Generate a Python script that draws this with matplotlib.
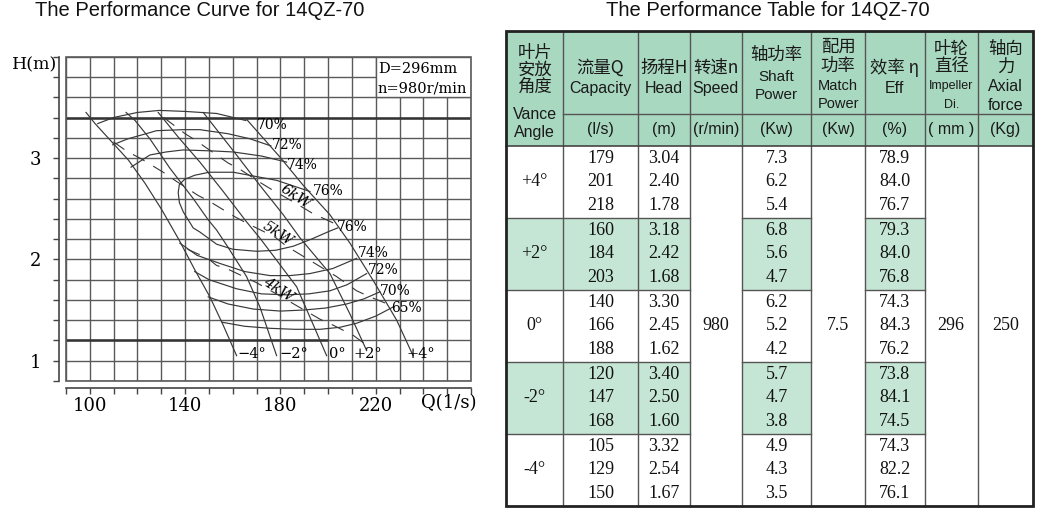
import matplotlib
matplotlib.use("Agg")
import matplotlib.pyplot as plt
from matplotlib.patches import Rectangle

W, H = 1062, 523

# ---------------- titles ----------------
title_curve = "The Performance Curve for 14QZ-70"
title_table = "The Performance Table for 14QZ-70"

# ---------------- chart axes / ticks ----------------
x_ticks = [90, 100, 110, 120, 130, 140, 150, 160, 170, 180, 190, 200, 210, 220, 230, 240, 250, 260]
x_tick_labels = ["", "100", "", "", "", "140", "", "", "", "180", "", "", "", "220", "", "", "", ""]
y_ticks = [0.8, 1.0, 1.2, 1.4, 1.6, 1.8, 2.0, 2.2, 2.4, 2.6, 2.8, 3.0, 3.2, 3.4, 3.6, 3.8, 4.0]
y_tick_labels = ["", "1", "", "", "", "", "2", "", "", "", "", "3", "", "", "", "", ""]
x_label = "Q(1/s)"
y_label = "H(m)"
info_lines = ["D=296mm", "n=980r/min"]

# ---------------- blade-angle H-Q curves ----------------
ang_m4_q = [98.4, 102.2, 109.2, 116.2, 123.2, 130.2, 137.5, 144.0, 150.4, 156.0, 161.6]
ang_m4_h = [3.45, 3.34, 3.16, 2.98, 2.75, 2.49, 2.19, 1.90, 1.63, 1.35, 1.05]
ang_m2_q = [115.2, 119.0, 125.2, 133.6, 143.4, 149.7, 153.2, 158.0, 165.8, 171.4, 178.4]
ang_m2_h = [3.45, 3.37, 3.19, 2.90, 2.60, 2.39, 2.29, 2.12, 1.83, 1.53, 1.05]
ang_0_q = [128.7, 137.0, 146.2, 156.0, 165.8, 171.4, 186.8, 192.4, 199.4]
ang_0_h = [3.45, 3.21, 2.96, 2.67, 2.37, 2.21, 1.73, 1.43, 1.05]
ang_p2_q = [147.6, 161.6, 171.4, 181.2, 188.3, 200.8, 209.2, 216.2]
ang_p2_h = [3.45, 3.03, 2.73, 2.44, 2.21, 1.86, 1.46, 1.10]
ang_p4_q = [165.5, 179.8, 189.6, 200.8, 209.2, 219.0, 228.8, 235.7]
ang_p4_h = [3.39, 3.01, 2.73, 2.44, 2.16, 1.79, 1.40, 1.05]
angle_names = ["\u22124\u00b0", "\u22122\u00b0", "0\u00b0", "+2\u00b0", "+4\u00b0"]
angle_label_q = [161.8, 179.5, 200.5, 210.6, 233.0]
angle_label_h = [1.07, 1.07, 1.07, 1.07, 1.07]

# ---------------- iso-efficiency curves ----------------
eff70u_q = [103.3, 110.0, 120.0, 129.2, 140.0, 153.2, 165.5]
eff70u_h = [3.34, 3.40, 3.45, 3.47, 3.46, 3.44, 3.37]
eff72u_q = [109.6, 116.0, 123.6, 128.0, 139.0, 146.2, 158.0, 167.2, 176.0]
eff72u_h = [3.13, 3.19, 3.24, 3.27, 3.28, 3.28, 3.24, 3.19, 3.12]
eff74u_q = [117.3, 125.2, 132.0, 139.2, 151.6, 160.2, 172.0, 182.6]
eff74u_h = [2.91, 3.03, 3.06, 3.08, 3.07, 3.06, 3.02, 2.96]
eff76_q = [192.4, 178.4, 160.2, 150.1, 144.0, 139.8, 137.6, 137.1, 137.6, 139.2, 143.4, 146.2,
           153.2, 160.0, 170.0, 178.0, 185.4, 193.0, 200.8, 204.0]
eff76_h = [2.67, 2.78, 2.86, 2.86, 2.83, 2.79, 2.74, 2.66, 2.56, 2.47, 2.31, 2.27,
           2.15, 2.10, 2.08, 2.09, 2.13, 2.20, 2.28, 2.31]
eff74l_q = [137.8, 145.0, 154.6, 165.0, 175.6, 184.0, 192.4, 202.0, 212.0]
eff74l_h = [2.16, 2.04, 1.96, 1.88, 1.84, 1.84, 1.86, 1.91, 2.01]
eff72l_q = [144.0, 150.0, 161.6, 172.0, 182.6, 192.0, 200.8, 208.0, 216.2]
eff72l_h = [1.88, 1.80, 1.71, 1.66, 1.65, 1.66, 1.69, 1.75, 1.86]
eff70l_q = [149.7, 158.0, 168.6, 180.0, 189.6, 199.0, 207.8, 215.0, 221.8]
eff70l_h = [1.63, 1.56, 1.51, 1.49, 1.50, 1.52, 1.56, 1.61, 1.68]
eff65_q = [155.5, 165.0, 175.6, 186.0, 196.6, 205.0, 212.0, 220.0, 227.3]
eff65_h = [1.38, 1.34, 1.32, 1.31, 1.31, 1.33, 1.37, 1.44, 1.53]
eff_label_text = ["70%", "72%", "74%", "76%", "76%", "74%", "72%", "70%", "65%"]
eff_label_q = [170.0, 176.3, 182.9, 193.5, 203.6, 212.7, 216.6, 221.8, 226.3]
eff_label_h = [3.33, 3.13, 2.93, 2.67, 2.32, 2.06, 1.90, 1.69, 1.52]

# ---------------- shaft power lines (dashed) ----------------
pw6_q = [131.0, 140.0, 144.1, 158.1, 162.3, 172.1, 177.0, 186.0, 193.8, 199.4, 203.0]
pw6_h = [3.40, 3.24, 3.18, 2.95, 2.90, 2.75, 2.68, 2.56, 2.45, 2.39, 2.35]
pw5_q = [109.9, 116.0, 121.0, 130.8, 135.7, 145.5, 149.7, 160.9, 166.5, 177.7, 182.6,
         192.4, 203.6, 212.0, 217.6, 226.0]
pw5_h = [3.16, 3.06, 3.00, 2.86, 2.78, 2.63, 2.58, 2.42, 2.35, 2.22, 2.13,
         1.99, 1.83, 1.69, 1.63, 1.55]
pw4_q = [141.0, 144.8, 149.0, 153.2, 157.4, 170.0, 179.0, 190.0, 196.6, 202.2, 210.6, 217.6]
pw4_h = [2.10, 2.06, 2.02, 1.94, 1.91, 1.77, 1.65, 1.50, 1.41, 1.35, 1.25, 1.13]
power_names = ["6kW", "5kW", "4kW"]
power_label_q = [186.4, 178.8, 179.2]
power_label_h = [2.62, 2.25, 1.70]

# ---------------- performance table data ----------------
vane_angles = ["+4\u00b0", "+2\u00b0", "0\u00b0", "-2\u00b0", "-4\u00b0"]
capacity = [[179, 201, 218], [160, 184, 203], [140, 166, 188], [120, 147, 168], [105, 129, 150]]
head = [[3.04, 2.40, 1.78], [3.18, 2.42, 1.68], [3.30, 2.45, 1.62], [3.40, 2.50, 1.60], [3.32, 2.54, 1.67]]
shaft_power = [[7.3, 6.2, 5.4], [6.8, 5.6, 4.7], [6.2, 5.2, 4.2], [5.7, 4.7, 3.8], [4.9, 4.3, 3.5]]
efficiency = [[78.9, 84.0, 76.7], [79.3, 84.0, 76.8], [74.3, 84.3, 76.2], [73.8, 84.1, 74.5], [74.3, 82.2, 76.1]]
speed = 980
match_power = 7.5
impeller_dia = 296
axial_force = 250
header_cn = [["叶片", "安放", "角度"], ["流量Q"], ["扬程H"], ["转速n"], ["轴功率"],
             ["配用", "功率"], ["效率 η"], ["叶轮", "直径"], ["轴向", "力"]]
header_en = [["Vance", "Angle"], ["Capacity"], ["Head"], ["Speed"], ["Shaft", "Power"],
             ["Match", "Power"], ["Eff"], ["Impeller", "Di."], ["Axial", "force"]]
header_units = ["", "(l/s)", "(m)", "(r/min)", "(Kw)", "(Kw)", "(%)", "( mm )", "(Kg)"]

# ======================================================================
fig = plt.figure(figsize=(W / 100, H / 100), dpi=100)
fig.patch.set_facecolor("white")

def fx(px):
    return px / W

def fy(py):
    return 1 - py / H

SERIF = "DejaVu Serif"
GRID_C = "#5a5a5a"
CURVE_C = "#383838"

# ---------------- table (pixel-space axes) ----------------
tab = fig.add_axes([0, 0, 1, 1])
tab.set_xlim(0, W)
tab.set_ylim(H, 0)
tab.axis("off")

col_edges = [506.3, 563.2, 637.9, 689.5, 742.1, 811.2, 864.9, 924.6, 977.9, 1033.3]
t_top, t_mid, t_hbot = 30.5, 114.0, 145.5
grp_h = 72.0
t_bot = t_hbot + grp_h * len(vane_angles)
HEAD_G = "#a9d8c0"
CELL_G = "#c5e6d4"
LINE_C = "#555555"

tab.add_patch(Rectangle((col_edges[0], t_top), col_edges[-1] - col_edges[0], t_hbot - t_top,
                        facecolor=HEAD_G, edgecolor="none", zorder=1))
green_cols = [0, 1, 2, 4, 6]
for g in range(len(vane_angles)):
    if g % 2 == 1:
        for c in green_cols:
            tab.add_patch(Rectangle((col_edges[c], t_hbot + g * grp_h), col_edges[c + 1] - col_edges[c],
                                    grp_h, facecolor=CELL_G, edgecolor="none", zorder=1))
for xe in col_edges[1:-1]:
    tab.plot([xe, xe], [t_top, t_bot], color=LINE_C, lw=1.0, zorder=2)
tab.plot([col_edges[1], col_edges[-1]], [t_mid, t_mid], color=LINE_C, lw=1.0, zorder=2)
tab.plot([col_edges[0], col_edges[-1]], [t_hbot, t_hbot], color="#444444", lw=1.2, zorder=2)
for g in range(1, len(vane_angles)):
    yb = t_hbot + g * grp_h
    for c0, c1 in [(0, 3), (4, 5), (6, 7)]:
        tab.plot([col_edges[c0], col_edges[c1]], [yb, yb], color=LINE_C, lw=1.0, zorder=2)
tab.add_patch(Rectangle((col_edges[0], t_top), col_edges[-1] - col_edges[0], t_bot - t_top,
                        facecolor="none", edgecolor="#222222", lw=2.0, zorder=3))

cn_y = [[53, 70, 87], [68], [68], [68], [55], [47, 66], [68], [49, 66.5], [49, 66.5]]
en_y = [[114.5, 132], [88.5], [88.5], [88.5], [77, 95], [86, 104], [88.5], [86.5, 105], [86.5, 105]]
en_size = [11.5, 11.5, 11.5, 11.5, 11, 10.5, 11.5, 9, 11.5]
for c in range(9):
    xc = (col_edges[c] + col_edges[c + 1]) / 2
    for txt, yy in zip(header_cn[c], cn_y[c]):
        tab.text(xc, yy, txt, ha="center", va="center", fontsize=12.5,
                 family=["Noto Sans CJK SC", "DejaVu Sans"], color="#1a1a1a", zorder=4)
    for txt, yy in zip(header_en[c], en_y[c]):
        tab.text(xc, yy, txt, ha="center", va="center", fontsize=en_size[c],
                 family="Liberation Sans", color="#1a1a1a", zorder=4)
    if header_units[c]:
        tab.text(xc, 129.5, header_units[c], ha="center", va="center", fontsize=11.5,
                 family="Liberation Sans", color="#1a1a1a", zorder=4)

row_off = [13.0, 36.5, 60.0]
DFONT = dict(family="Liberation Serif", fontsize=13, color="#111111", ha="center", va="center", zorder=4)
cc = [(col_edges[c] + col_edges[c + 1]) / 2 for c in range(9)]
for g, ang in enumerate(vane_angles):
    gt = t_hbot + g * grp_h
    tab.text(cc[0], gt + grp_h / 2, ang, **DFONT)
    for r in range(3):
        yy = gt + row_off[r]
        tab.text(cc[1], yy, f"{capacity[g][r]:d}", **DFONT)
        tab.text(cc[2], yy, f"{head[g][r]:.2f}", **DFONT)
        tab.text(cc[4], yy, f"{shaft_power[g][r]:.1f}", **DFONT)
        tab.text(cc[6], yy, f"{efficiency[g][r]:.1f}", **DFONT)
ymid = (t_hbot + t_bot) / 2
tab.text(cc[3], ymid, f"{speed}", **DFONT)
tab.text(cc[5], ymid, f"{match_power}", **DFONT)
tab.text(cc[7], ymid, f"{impeller_dia}", **DFONT)
tab.text(cc[8], ymid, f"{axial_force}", **DFONT)

fig.text(fx(200), fy(10), title_curve, ha="center", va="center", fontsize=14.5,
         family="Liberation Sans", color="#111111")
fig.text(fx(768), fy(10), title_table, ha="center", va="center", fontsize=14.5,
         family="Liberation Sans", color="#111111")

# ---------------- performance curve chart ----------------
ax = fig.add_axes([fx(66), fy(381), (471 - 66) / W, (381 - 56.7) / H])
for s in ["top", "right"]:
    ax.spines[s].set_visible(False)
for s in ["left", "bottom"]:
    ax.spines[s].set_position(("outward", 4.8))
    ax.spines[s].set_color("#444444")
    ax.spines[s].set_linewidth(1.2)
ax.set_xlim(90, 260)
ax.set_ylim(0.8, 4.0)
ax.set_xticks(x_ticks)
ax.set_xticklabels(x_tick_labels)
ax.set_yticks(y_ticks)
ax.set_yticklabels(y_tick_labels)
ax.tick_params(axis="both", direction="out", length=4.3, width=1.0, color="#444444", labelsize=13)
ax.tick_params(axis="x", pad=2.5)
ax.tick_params(axis="y", pad=9)
for lab in ax.get_xticklabels() + ax.get_yticklabels():
    lab.set_fontfamily(SERIF)
ax.grid(True, color=GRID_C, lw=1.0)
ax.set_axisbelow(True)
ax.add_patch(Rectangle((0, 0), 1, 1, transform=ax.transAxes, fill=False, edgecolor=GRID_C,
                       lw=1.2, clip_on=False, zorder=3))
ax.axhline(3.4, color="#333333", lw=1.8, zorder=0.7)
ax.hlines(1.2, 90, 200, color="#333333", lw=1.8, zorder=0.7)
ax.add_patch(Rectangle((220, 3.6), 40, 0.4, facecolor="white", edgecolor=GRID_C, lw=1.0, zorder=1))
ax.text(220.9, 3.875, info_lines[0], family=SERIF, fontsize=10.5, ha="left", va="center", zorder=4)
ax.text(220.9, 3.69, info_lines[1], family=SERIF, fontsize=10.5, ha="left", va="center", zorder=4)

angle_curves = [(ang_m4_q, ang_m4_h), (ang_m2_q, ang_m2_h), (ang_0_q, ang_0_h),
                (ang_p2_q, ang_p2_h), (ang_p4_q, ang_p4_h)]
for q, hh in angle_curves:
    ax.plot(q, hh, color=CURVE_C, lw=0.85, zorder=2)
for name, q, hh in zip(angle_names, angle_label_q, angle_label_h):
    ax.text(q, hh, name, family=SERIF, fontsize=10.5, ha="left", va="center", zorder=4)

eff_curves = [(eff70u_q, eff70u_h), (eff72u_q, eff72u_h), (eff74u_q, eff74u_h), (eff76_q, eff76_h),
              (eff74l_q, eff74l_h), (eff72l_q, eff72l_h), (eff70l_q, eff70l_h), (eff65_q, eff65_h)]
for q, hh in eff_curves:
    ax.plot(q, hh, color=CURVE_C, lw=0.85, zorder=2)
for t, q, hh in zip(eff_label_text, eff_label_q, eff_label_h):
    ax.text(q, hh, t, family=SERIF, fontsize=10, ha="left", va="center", zorder=4)

power_curves = [(pw6_q, pw6_h), (pw5_q, pw5_h), (pw4_q, pw4_h)]
for q, hh in power_curves:
    ax.plot(q, hh, color=CURVE_C, lw=0.8, ls=(0, (12, 9)), zorder=2)
for t, q, hh in zip(power_names, power_label_q, power_label_h):
    ax.text(q, hh, t, family=SERIF, fontsize=10.5, style="italic", rotation=-33,
            rotation_mode="anchor", ha="center", va="center", zorder=4)

fig.text(fx(12), fy(65), y_label, family=SERIF, fontsize=12.5, ha="left", va="center")
fig.text(fx(421), fy(403), x_label, family=SERIF, fontsize=13, ha="left", va="center")

fig.savefig("out.png", dpi=100, facecolor="white")
